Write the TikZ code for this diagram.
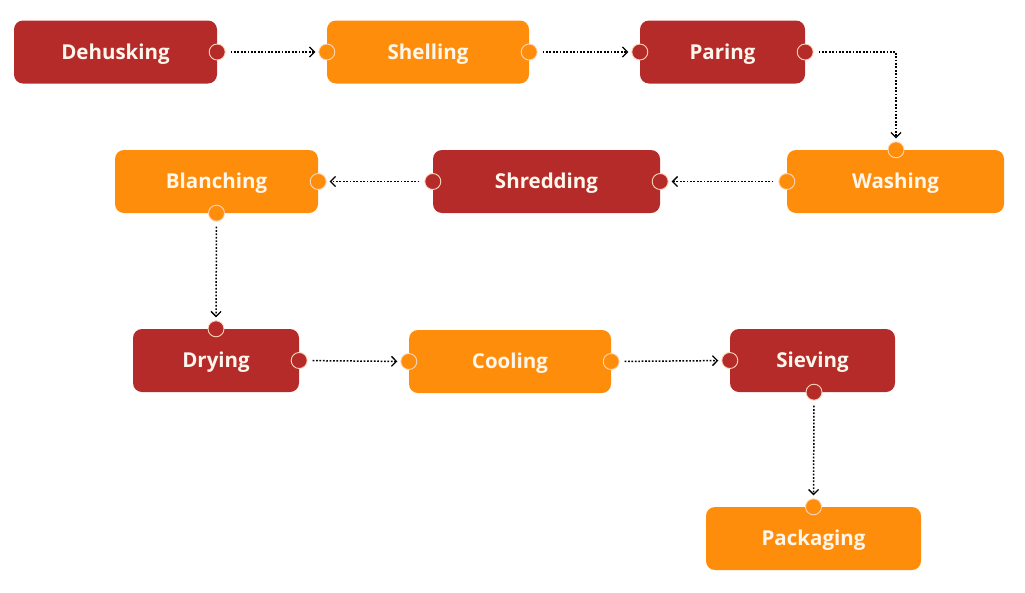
\documentclass[tikz,border=0pt]{standalone}
\usepackage{fontspec}
\setmainfont{Open Sans}
\usetikzlibrary{arrows.meta}
\definecolor{brick}{RGB}{181,43,42}
\definecolor{tangerine}{RGB}{255,141,12}
\definecolor{rim}{RGB}{252,214,186}
\definecolor{cream}{RGB}{255,246,236}

\begin{document}
\begin{tikzpicture}[x=1pt,y=-1pt,
    stage/.style={rounded corners=9pt, minimum height=63pt, inner sep=0pt,
      text height=14.6pt, text depth=0pt,
      text=cream, font=\bfseries\fontsize{20.5}{24}\selectfont},
    redstage/.style={stage, fill=brick},
    orangestage/.style={stage, fill=tangerine},
    port/.style={circle, minimum size=16pt, inner sep=0pt, draw=rim, line width=0.9pt},
    flow/.style={line width=1.5pt, dash pattern=on 1.7pt off 1.7pt,
      -{Straight Barb[length=5pt,width=10pt,line width=1.3pt]},
      shorten <=5pt, shorten >=3pt}]
  \useasboundingbox (0,0) rectangle (1025,592);

  % stages
  \node[redstage, minimum width=203pt] (dehusking) at (115.5,52) {Dehusking};
  \node[orangestage, minimum width=202pt] (shelling) at (428,52) {Shelling};
  \node[redstage, minimum width=165pt] (paring) at (722.5,52) {Paring};
  \node[orangestage, minimum width=217pt] (washing) at (895.5,181.5) {Washing};
  \node[redstage, minimum width=227pt] (shredding) at (546.5,181.5) {Shredding};
  \node[orangestage, minimum width=203pt] (blanching) at (216.5,181.5) {Blanching};
  \node[redstage, minimum width=166pt] (drying) at (216,360.5) {Drying};
  \node[orangestage, minimum width=202pt] (cooling) at (510,361.5) {Cooling};
  \node[redstage, minimum width=165pt] (sieving) at (812.5,360.5) {Sieving};
  \node[orangestage, minimum width=215pt] (packaging) at (813.5,538.5) {Packaging};

  % ports
  \node[port, fill=brick] (dehuskingR) at (dehusking.east) {};
  \node[port, fill=tangerine] (shellingL) at (shelling.west) {};
  \node[port, fill=tangerine] (shellingR) at (shelling.east) {};
  \node[port, fill=brick] (paringL) at (paring.west) {};
  \node[port, fill=brick] (paringR) at (paring.east) {};
  \node[port, fill=tangerine] (washingT) at ([xshift=0.5pt]washing.north) {};
  \node[port, fill=tangerine] (washingL) at (washing.west) {};
  \node[port, fill=brick] (shreddingR) at (shredding.east) {};
  \node[port, fill=brick] (shreddingL) at (shredding.west) {};
  \node[port, fill=tangerine] (blanchingR) at (blanching.east) {};
  \node[port, fill=tangerine] (blanchingB) at (blanching.south) {};
  \node[port, fill=brick] (dryingT) at (drying.north) {};
  \node[port, fill=brick] (dryingR) at (drying.east) {};
  \node[port, fill=tangerine] (coolingL) at (cooling.west) {};
  \node[port, fill=tangerine] (coolingR) at (cooling.east) {};
  \node[port, fill=brick] (sievingL) at (sieving.west) {};
  \node[port, fill=brick] (sievingB) at ([xshift=1.5pt]sieving.south) {};
  \node[port, fill=tangerine] (packagingT) at (packaging.north) {};

  % connectors
  \draw[flow] (dehuskingR) -- (shellingL);
  \draw[flow] (shellingR) -- (paringL);
  \draw[flow] (paringR) -| (washingT);
  \draw[flow] (washingL) -- (shreddingR);
  \draw[flow] (shreddingL) -- (blanchingR);
  \draw[flow] (blanchingB) -- (dryingT);
  \draw[flow] (dryingR) -- (coolingL);
  \draw[flow] (coolingR) -- (sievingL);
  \draw[flow] (sievingB) -- (packagingT);
\end{tikzpicture}
\end{document}
